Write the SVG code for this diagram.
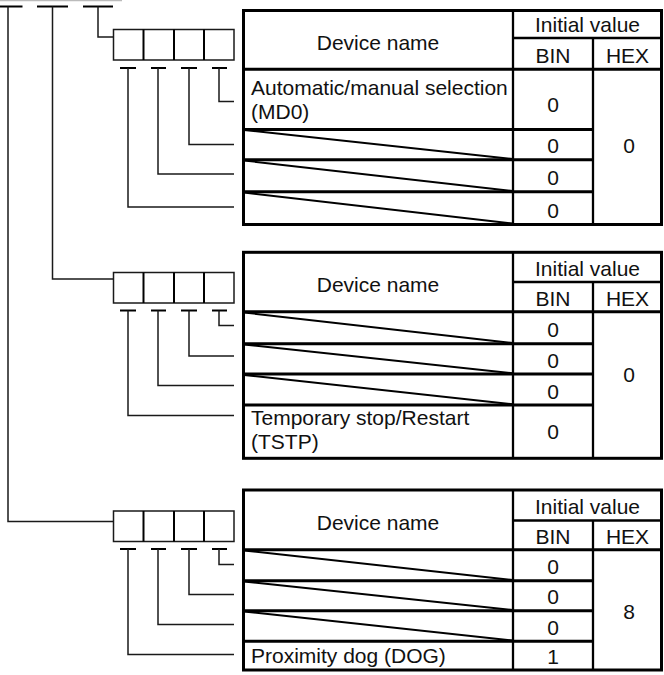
<svg xmlns="http://www.w3.org/2000/svg" width="664" height="675" viewBox="0 0 664 675">
<style>
text{font-family:"Liberation Sans",Arial,sans-serif;font-size:21px;fill:#111}
.c{text-anchor:middle}
.frame{fill:#fff;stroke:#000;stroke-width:3}
.l3{stroke:#000;stroke-width:3}
.l2{stroke:#000;stroke-width:2.3}
.dg{stroke:#000;stroke-width:2}
.cn{fill:none;stroke:#1a1a1a;stroke-width:1.5}
.bar{stroke:#000;stroke-width:2}
.box{fill:#fff;stroke:#1a1a1a;stroke-width:1.5}
.div{stroke:#000;stroke-width:2}
</style>
<rect width="664" height="675" fill="#fff"/>
<line x1="0" y1="0.5" x2="122" y2="0.5" stroke="#bbb" stroke-width="1.5"/>

<g id="connectors">
  <line class="bar" x1="0" y1="6.5" x2="22.5" y2="6.5"/>
  <line class="bar" x1="37" y1="6.5" x2="68" y2="6.5"/>
  <line class="bar" x1="83" y1="6.5" x2="113" y2="6.5"/>
  <polyline class="cn" points="8,6.5 8,521.5 113,521.5"/>
  <polyline class="cn" points="52.5,6.5 52.5,279 113,279"/>
  <polyline class="cn" points="98,6.5 98,37 113,37"/>
  <line class="bar" x1="120" y1="68" x2="136" y2="68"/>
  <line class="bar" x1="151" y1="68" x2="166" y2="68"/>
  <line class="bar" x1="181" y1="68" x2="197" y2="68"/>
  <line class="bar" x1="212" y1="68" x2="227" y2="68"/>
  <polyline class="cn" points="219,68 219,101.5 234,101.5"/>
  <polyline class="cn" points="189,68 189,144.5 234,144.5"/>
  <polyline class="cn" points="158,68 158,174 234,174"/>
  <polyline class="cn" points="128,68 128,207 234,207"/>
  <line class="bar" x1="120" y1="310.5" x2="136" y2="310.5"/>
  <line class="bar" x1="151" y1="310.5" x2="166" y2="310.5"/>
  <line class="bar" x1="181" y1="310.5" x2="197" y2="310.5"/>
  <line class="bar" x1="212" y1="310.5" x2="227" y2="310.5"/>
  <polyline class="cn" points="219,310.5 219,325.5 234,325.5"/>
  <polyline class="cn" points="189,310.5 189,356 234,356"/>
  <polyline class="cn" points="158,310.5 158,385.5 234,385.5"/>
  <polyline class="cn" points="128,310.5 128,415.5 234,415.5"/>
  <line class="bar" x1="120" y1="549" x2="136" y2="549"/>
  <line class="bar" x1="151" y1="549" x2="166" y2="549"/>
  <line class="bar" x1="181" y1="549" x2="197" y2="549"/>
  <line class="bar" x1="212" y1="549" x2="227" y2="549"/>
  <polyline class="cn" points="219,549 219,564.5 234,564.5"/>
  <polyline class="cn" points="189,549 189,594.5 234,594.5"/>
  <polyline class="cn" points="158,549 158,624.5 234,624.5"/>
  <polyline class="cn" points="128,549 128,654.5 234,654.5"/>
</g>

<g id="box1">
  <rect class="box" x="113.5" y="29.5" width="120.5" height="30.5"/>
  <line class="div" x1="143.5" y1="29.5" x2="143.5" y2="60"/>
  <line class="div" x1="174" y1="29.5" x2="174" y2="60"/>
  <line class="div" x1="204" y1="29.5" x2="204" y2="60"/>
</g>
<g id="box2">
  <rect class="box" x="113.5" y="272.5" width="120.5" height="30.5"/>
  <line class="div" x1="143.5" y1="272.5" x2="143.5" y2="303"/>
  <line class="div" x1="174" y1="272.5" x2="174" y2="303"/>
  <line class="div" x1="204" y1="272.5" x2="204" y2="303"/>
</g>
<g id="box3">
  <rect class="box" x="113.5" y="511" width="120.5" height="30.5"/>
  <line class="div" x1="143.5" y1="511" x2="143.5" y2="541.5"/>
  <line class="div" x1="174" y1="511" x2="174" y2="541.5"/>
  <line class="div" x1="204" y1="511" x2="204" y2="541.5"/>
</g>

<g id="table1">
  <rect class="frame" x="243.5" y="10.5" width="418" height="214"/>
  <line class="l2" x1="513" y1="10.5" x2="513" y2="224.5"/>
  <line class="l2" x1="593" y1="38" x2="593" y2="224.5"/>
  <line class="l2" x1="513" y1="38" x2="661.5" y2="38"/>
  <line class="l3" x1="243.5" y1="69.3" x2="661.5" y2="69.3"/>
  <line class="l3" x1="243.5" y1="129.5" x2="593" y2="129.5"/>
  <line class="l3" x1="243.5" y1="159.7" x2="593" y2="159.7"/>
  <line class="l3" x1="243.5" y1="191.7" x2="593" y2="191.7"/>
  <line class="dg" x1="244" y1="130" x2="513" y2="159"/>
  <line class="dg" x1="244" y1="160.5" x2="513" y2="191"/>
  <line class="dg" x1="244" y1="192.5" x2="513" y2="223.5"/>
  <text class="c" x="587.5" y="31.5">Initial value</text>
  <text class="c" x="378" y="50">Device name</text>
  <text class="c" x="553" y="62.8">BIN</text>
  <text class="c" x="627.5" y="62.8">HEX</text>
  <text x="251" y="95">Automatic/manual selection</text>
  <text x="251" y="118.5">(MD0)</text>
  <text class="c" x="553" y="112">0</text>
  <text class="c" x="553" y="153.2">0</text>
  <text class="c" x="553" y="185.2">0</text>
  <text class="c" x="553" y="218">0</text>
  <text class="c" x="629" y="153.2">0</text>
</g>

<g id="table2">
  <rect class="frame" x="243.5" y="252.3" width="418" height="206"/>
  <line class="l2" x1="513" y1="252.3" x2="513" y2="458.3"/>
  <line class="l2" x1="593" y1="282" x2="593" y2="458.3"/>
  <line class="l2" x1="513" y1="282" x2="661.5" y2="282"/>
  <line class="l3" x1="243.5" y1="311.7" x2="661.5" y2="311.7"/>
  <line class="l3" x1="243.5" y1="343.7" x2="593" y2="343.7"/>
  <line class="l3" x1="243.5" y1="374" x2="593" y2="374"/>
  <line class="l3" x1="243.5" y1="405" x2="593" y2="405"/>
  <line class="dg" x1="244" y1="312.5" x2="513" y2="343"/>
  <line class="dg" x1="244" y1="344.5" x2="513" y2="373.3"/>
  <line class="dg" x1="244" y1="375" x2="513" y2="404.3"/>
  <text class="c" x="587.5" y="275.5">Initial value</text>
  <text class="c" x="378" y="292">Device name</text>
  <text class="c" x="553" y="305.5">BIN</text>
  <text class="c" x="627.5" y="305.5">HEX</text>
  <text x="251" y="425">Temporary stop/Restart</text>
  <text x="251" y="448.5">(TSTP)</text>
  <text class="c" x="553" y="337.2">0</text>
  <text class="c" x="553" y="367.5">0</text>
  <text class="c" x="553" y="398.5">0</text>
  <text class="c" x="553" y="438.5">0</text>
  <text class="c" x="629" y="381.5">0</text>
</g>

<g id="table3">
  <rect class="frame" x="243.5" y="490" width="418" height="180"/>
  <line class="l2" x1="513" y1="490" x2="513" y2="670"/>
  <line class="l2" x1="593" y1="520.5" x2="593" y2="670"/>
  <line class="l2" x1="513" y1="520.5" x2="661.5" y2="520.5"/>
  <line class="l3" x1="243.5" y1="549.7" x2="661.5" y2="549.7"/>
  <line class="l3" x1="243.5" y1="580.7" x2="593" y2="580.7"/>
  <line class="l3" x1="243.5" y1="610.7" x2="593" y2="610.7"/>
  <line class="l3" x1="243.5" y1="641.3" x2="593" y2="641.3"/>
  <line class="dg" x1="244" y1="550.5" x2="513" y2="580"/>
  <line class="dg" x1="244" y1="581.5" x2="513" y2="610"/>
  <line class="dg" x1="244" y1="611.5" x2="513" y2="640.5"/>
  <text class="c" x="587.5" y="514">Initial value</text>
  <text class="c" x="378" y="530">Device name</text>
  <text class="c" x="553" y="543.5">BIN</text>
  <text class="c" x="627.5" y="543.5">HEX</text>
  <text x="251" y="663">Proximity dog (DOG)</text>
  <text class="c" x="553" y="574.2">0</text>
  <text class="c" x="553" y="604.2">0</text>
  <text class="c" x="553" y="634.8">0</text>
  <text class="c" x="553" y="663.5">1</text>
  <text class="c" x="629" y="619">8</text>
</g>
</svg>
